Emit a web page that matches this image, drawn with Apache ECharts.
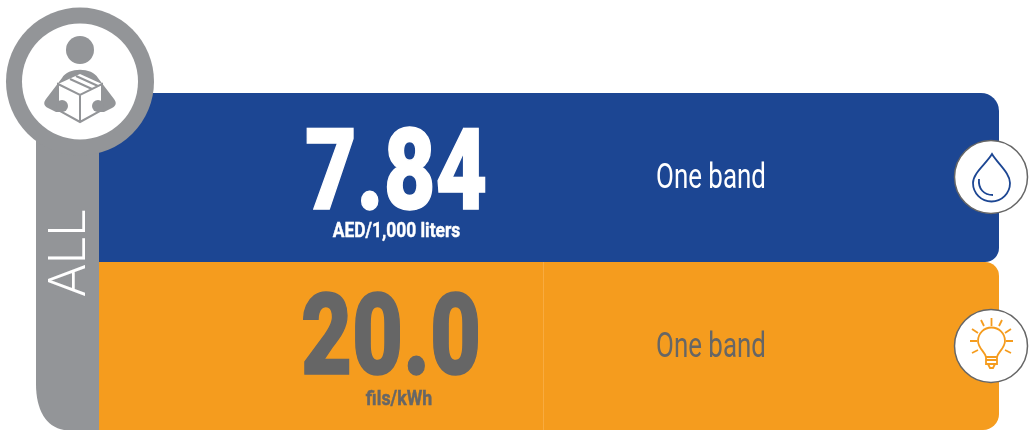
<!DOCTYPE html>
<html><head><meta charset="utf-8">
<style>html,body{margin:0;padding:0;background:#fff}#c{width:1030px;height:430px}</style>
<script src="https://cdn.jsdelivr.net/npm/echarts@6/dist/echarts.min.js"></script>
</head><body><div id="c"></div>
<script>
const segmentLabel = 'ALL';
const values = ['7.84', '20.0'];
const units = ['AED/1,000 liters', 'fils/kWh'];
const bands = ['One band', 'One band'];
const bandColors = ['#1c4693', '#f59c1e'];
const valueColors = ['#ffffff', '#666666'];
const unitColors = ['#ffffff', '#666666'];
const bandTextColors = ['#ffffff', '#666666'];
const GRAY = '#939598';
const FONT = 'Roboto,"Liberation Sans",sans-serif';

const rows = [
  {y: 93, h: 169, r: [0, 18, 14, 0], vy: 181, vx: 396, vs: 0.79, uy: 232, ux: 396.5, us: 0.87, by: 179, cy: 177},
  {y: 262, h: 168, r: [0, 14, 16, 0], vy: 346, vx: 391, vs: 0.78, uy: 400, ux: 399, us: 0.89, by: 348, cy: 346}
];

const dropPath = 'M1 -23 C7 -13 19 -4 19 6 A18.5 18.5 0 0 1 -18 6 C-18 -4 -5 -13 1 -23 Z M-12 2 C-13 12 -7 18 2 18';
const bulbPath = 'M-5 11 C-6 6 -13 2 -13 -5 A13.5 13.5 0 0 1 14 -5 C14 2 7 6 6 11 Z M-5 11 L-5 18 L6 18 L6 11 M-5 14 L6 14 M-3 18 L-1 22 L2 22 L4 18'
  + ' M0.5 -28 L0.5 -20 M-10 -26 L-7 -20 M11 -26 L8 -20 M-19 -17 L-13 -13 M20 -17 L14 -13 M-21 -5 L-14 -5 M22 -5 L15 -5 M-19 7 L-13 4 M20 7 L14 4';

function renderRow(params, api) {
  const i = api.value(0), g = rows[i];
  const kids = [
    {type: 'rect', shape: {x: 99, y: g.y, width: 900, height: g.h, r: g.r}, style: {fill: bandColors[i]}},
    {type: 'text', x: g.vx, y: g.vy, scaleX: g.vs, style: {text: values[i], font: `900 113px ${FONT}`, fill: valueColors[i], stroke: valueColors[i], lineWidth: 1.5, align: 'center', verticalAlign: 'middle'}},
    {type: 'text', x: g.ux, y: g.uy, scaleX: g.us, style: {text: units[i], font: `bold 20px ${FONT}`, fill: unitColors[i], stroke: unitColors[i], lineWidth: 0.4, align: 'center', verticalAlign: 'middle'}},
    {type: 'text', x: 711, y: g.by, scaleX: 0.74, style: {text: bands[i], font: `35px ${FONT}`, fill: bandTextColors[i], align: 'center', verticalAlign: 'middle'}},
    {type: 'circle', shape: {cx: 991, cy: g.cy, r: 36.5}, style: {fill: '#fff', stroke: '#666', lineWidth: 1.5}},
    {type: 'path', x: 991, y: g.cy, shape: {pathData: i === 0 ? dropPath : bulbPath},
      style: {fill: 'none', stroke: bandColors[i], lineWidth: 1.8}}
  ];
  if (i === 1) kids.splice(1, 0, {type: 'line', shape: {x1: 543.5, y1: 262, x2: 543.5, y2: 430}, style: {stroke: '#f8ab40', lineWidth: 1}});
  return {type: 'group', children: kids};
}

const stripPath = 'M36 120 L99 120 L99 430 L64 430 C46 427 36 410 36 384 Z';
const personBody = 'M62 78 C68 67 92 67 98 78 L114 99 C117 103 116 106 112 108 L104 112 L56 112 L48 108 C44 106 43 103 46 99 Z';
const boxFace = 'M58 84 L80 74 L102 84 L102 110 L80 122 L58 110 Z';
const boxEdges = 'M58 84 L80 95 L102 84 L102 110 L80 122 L58 110 Z M80 95 L80 122 M70 79 L92 89 M76 76 L98 86';

function renderBadge() {
  return {type: 'group', children: [
    {type: 'path', shape: {pathData: stripPath}, style: {fill: GRAY}},
    {type: 'circle', shape: {cx: 80, cy: 81.5, r: 74}, style: {fill: GRAY}},
    {type: 'circle', shape: {cx: 80, cy: 81.5, r: 58}, style: {fill: '#fff'}},
    {type: 'circle', shape: {cx: 80, cy: 50, r: 14}, style: {fill: GRAY}},
    {type: 'path', shape: {pathData: personBody}, style: {fill: GRAY}},
    {type: 'path', shape: {pathData: boxFace}, style: {fill: '#fff'}},
    {type: 'path', shape: {pathData: boxEdges}, style: {fill: 'none', stroke: GRAY, lineWidth: 2}},
    {type: 'circle', shape: {cx: 62, cy: 106, r: 6}, style: {fill: GRAY}},
    {type: 'circle', shape: {cx: 98, cy: 106, r: 6}, style: {fill: GRAY}},
    {type: 'text', x: 72, y: 253, rotation: Math.PI / 2, style: {text: segmentLabel, font: '300 52px Roboto,"Liberation Sans",sans-serif', fill: '#fff', align: 'center', verticalAlign: 'middle'}}
  ]};
}

const chart = echarts.init(document.getElementById('c'), null, {renderer: 'canvas'});
chart.setOption({
  animation: false,
  backgroundColor: '#ffffff',
  series: [
    {type: 'custom', coordinateSystem: 'none', silent: true, data: values.map((v, i) => [i, parseFloat(v)]), renderItem: renderRow, z: 1},
    {type: 'custom', coordinateSystem: 'none', silent: true, data: [[0]], renderItem: renderBadge, z: 2}
  ]
});
</script></body></html>
